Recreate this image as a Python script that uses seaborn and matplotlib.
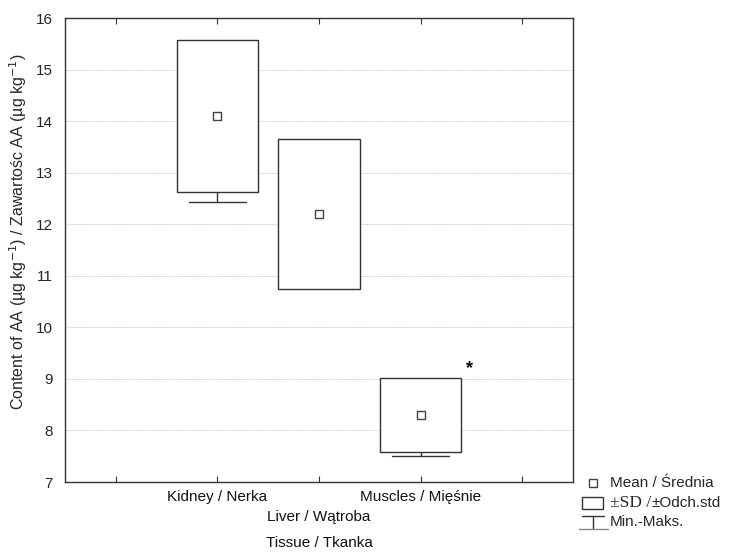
import matplotlib
matplotlib.use("Agg")
import matplotlib.pyplot as plt
from matplotlib.patches import Rectangle
from matplotlib.lines import Line2D
import seaborn as sns
import pandas as pd

sns.set_theme(style="white")
plt.rcParams["font.family"] = ["Liberation Sans", "DejaVu Sans"]

# Summary statistics per tissue
tissues = ["Kidney / Nerka", "Liver / Wątroba", "Muscles / Mięśnie"]
means = [14.1, 12.2, 8.3]
sds = [1.48, 1.46, 0.72]
mins = [12.43, 11.2, 7.5]
maxs = [15.2, 13.2, 8.9]
y_ticks = [7, 8, 9, 10, 11, 12, 13, 14, 15, 16]

df = pd.DataFrame({"tissue": tissues, "mean": means, "sd": sds,
                   "min": mins, "max": maxs})
df["pos"] = range(len(df))

W, H = 729, 552
fig = plt.figure(figsize=(W / 100, H / 100), dpi=100)
ax = fig.add_axes([65 / W, 70 / H, 508 / W, 464 / H])

edge = "#333333"
box_w = 0.8
cap_w = 0.56

# ±SD boxes
ax.bar(df["pos"], 2 * df["sd"], bottom=df["mean"] - df["sd"], width=box_w,
       color="white", edgecolor=edge, linewidth=1.0, zorder=3)

# Min-max whiskers, drawn where they extend beyond the SD box
for _, r in df.iterrows():
    lo, hi = r["mean"] - r["sd"], r["mean"] + r["sd"]
    if r["min"] < lo:
        ax.plot([r["pos"], r["pos"]], [r["min"], lo], color=edge, lw=1.0, zorder=3)
        ax.plot([r["pos"] - cap_w / 2, r["pos"] + cap_w / 2], [r["min"]] * 2,
                color=edge, lw=1.0, zorder=3)
    if r["max"] > hi:
        ax.plot([r["pos"], r["pos"]], [hi, r["max"]], color=edge, lw=1.0, zorder=3)
        ax.plot([r["pos"] - cap_w / 2, r["pos"] + cap_w / 2], [r["max"]] * 2,
                color=edge, lw=1.0, zorder=3)

# Means
sns.scatterplot(data=df, x="pos", y="mean", marker="s", s=36, color="white",
                edgecolor="#444444", linewidth=1.0, zorder=4, ax=ax, legend=False)

# Significance marker
ax.text(2 + box_w / 2 + 0.05, df["mean"][2] + df["sd"][2] + 0.02, "*",
        fontsize=13, fontweight="bold", ha="left", va="bottom", color="black")

ax.set_xlim(-1.5, 3.5)
ax.set_ylim(7, 16)
ax.set_yticks(y_ticks)
ax.set_yticklabels([str(t) for t in y_ticks], fontsize=11)
ax.set_xticks([-1, 0, 1, 2, 3])
ax.set_xticklabels([])
ax.tick_params(axis="x", direction="in", length=4, top=True, bottom=True,
               color=edge, width=0.8)
ax.tick_params(axis="y", length=0, pad=9)
ax.grid(axis="y", linestyle=(0, (1, 1)), color="#bbbbbb", linewidth=0.6)
ax.set_axisbelow(True)
for sp in ax.spines.values():
    sp.set_color(edge)
    sp.set_linewidth(1.0)

ax.set_xlabel("")
ax.set_ylabel("Content of AA (µg kg$^{-1}$) / Zawartośc AA (µg kg$^{-1}$)",
              fontsize=11.5)
ax.yaxis.set_label_coords((29 - 65) / 508, (482 - 232) / 464)

# Staggered category labels
for i, name in enumerate(tissues):
    yoff = -0.032 if i % 2 == 0 else -0.075
    ax.text(i, yoff, name, transform=ax.get_xaxis_transform(), ha="center",
            va="center", fontsize=11, color="#111111")
ax.text(1, -0.131, "Tissue / Tkanka", transform=ax.get_xaxis_transform(),
        ha="center", va="center", fontsize=11, color="#111111")


# Legend, laid out in figure pixels (origin at top-left)
def fx(px):
    return px / W


def fy(py):
    return 1 - py / H


tf = fig.transFigure
fig.add_artist(Line2D([fx(593)], [fy(483)], marker="s", markersize=6,
                      markerfacecolor="white", markeredgecolor="#444444",
                      linestyle="none", transform=tf))
fig.text(fx(610), fy(483), "Mean / Średnia", fontsize=11, va="center", ha="left")

fig.add_artist(Rectangle((fx(582), fy(509)), fx(603) - fx(582), fy(497) - fy(509),
                         facecolor="white", edgecolor=edge, linewidth=1.0,
                         transform=tf))
t1 = fig.text(fx(610), fy(503), "±SD /", family="Liberation Serif",
              fontsize=12.5, va="center", ha="left")
fig.canvas.draw()
b1 = t1.get_window_extent()
fig.text(b1.x1 / W, fy(503), "±Odch.std", fontsize=11, va="center", ha="left")

fig.add_artist(Line2D([fx(582), fx(604)], [fy(516), fy(516)], color=edge,
                      lw=1.0, transform=tf))
fig.add_artist(Line2D([fx(593), fx(593)], [fy(516), fy(529)], color=edge,
                      lw=1.0, transform=tf))
fig.add_artist(Line2D([fx(579), fx(608)], [fy(529), fy(529)], color="#888888",
                      lw=1.0, transform=tf))
fig.text(fx(610), fy(522), "Min.-Maks.", fontsize=11, va="center", ha="left")

fig.savefig("out.png", dpi=100)
